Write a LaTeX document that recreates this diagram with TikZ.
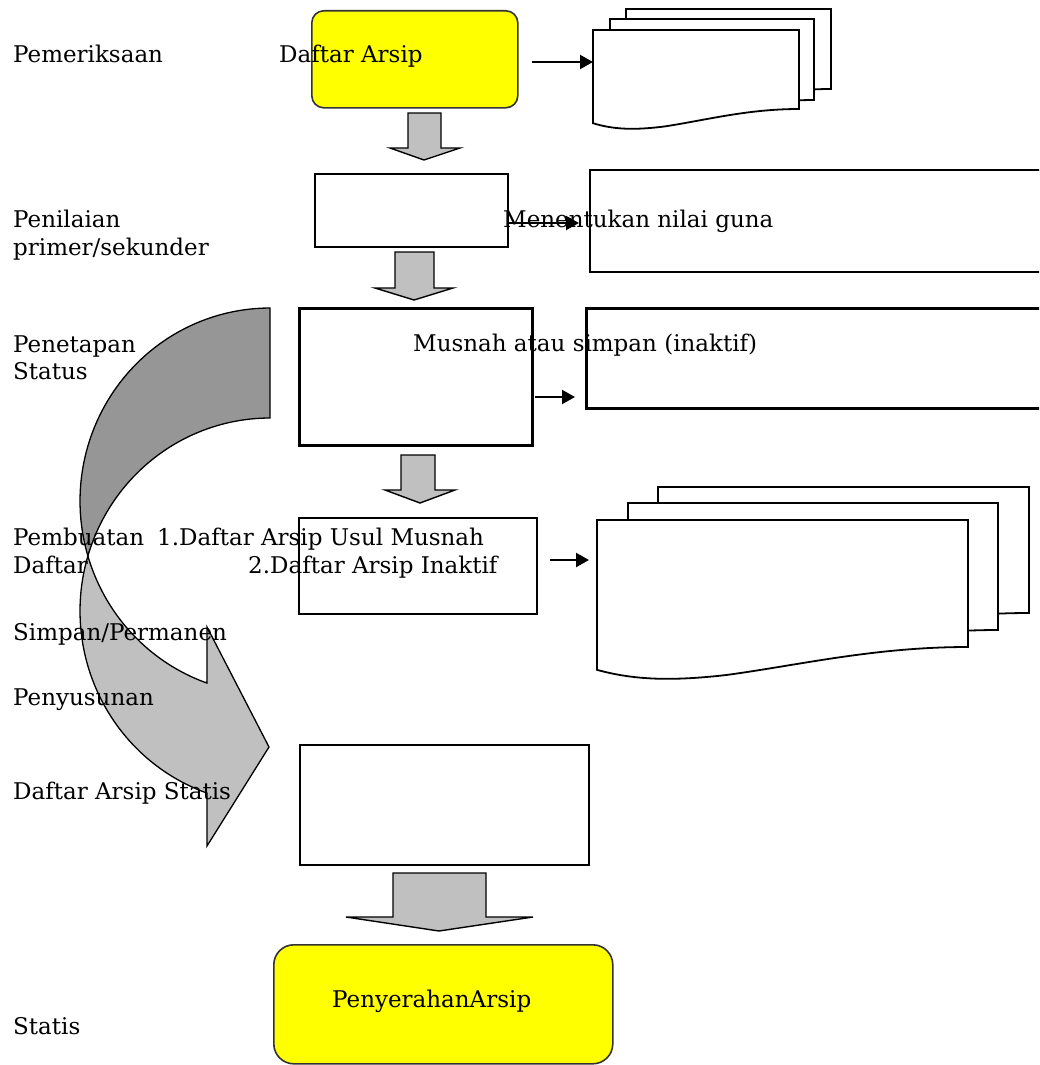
\documentclass[tikz,border=0pt]{standalone}
\usepackage{fontspec}
\setmainfont{DejaVu Serif}
\usetikzlibrary{arrows.meta}
\definecolor{ylw}{HTML}{FFFF00}
\definecolor{lgray}{HTML}{C0C0C0}
\definecolor{dgray}{HTML}{969696}
\newcommand\mydocpage[4]{%
 \filldraw[pagestyle] (#1,#2) -- (#3,#2) -- (#3,#4)
  .. controls ({#1+0.75*(#3-#1)},{#4}) and ({#1+0.55*(#3-#1)},{#4+0.14*(#4-#2)}) .. ({#1+0.35*(#3-#1)},{#4+0.22*(#4-#2)})
  .. controls ({#1+0.2*(#3-#1)},{#4+0.27*(#4-#2)}) and ({#1+0.1*(#3-#1)},{#4+0.26*(#4-#2)}) .. ({#1},{#4+0.18*(#4-#2)}) -- cycle;}
\tikzset{
 pagestyle/.style={fill=white, draw=black, line width=1.8pt, line join=miter},
 boxthin/.style={draw=black, line width=1.5pt, inner sep=0pt, anchor=north west},
 boxmid/.style={draw=black, line width=2.2pt, inner sep=0pt, anchor=north west},
 boxthick/.style={draw=black, line width=2.7pt, inner sep=0pt, anchor=north west},
 yellowbox/.style={draw=black!80, fill=ylw, line width=1.6pt, inner sep=0pt, anchor=north west},
 lbl/.style={anchor=base west, inner sep=0pt, font=\fontsize{23}{28}\selectfont},
 blk/.style={line width=2.2pt, -{Triangle[length=13pt,width=14pt]}},
 grayarrow/.style={fill=lgray, draw=black, line width=1.4pt, line join=miter},
 darkpart/.style={fill=dgray, draw=black, line width=1.3pt},
 lightpart/.style={fill=lgray, draw=black, line width=1.3pt, line join=miter}
}
\begin{document}
\begin{tikzpicture}[x=1pt,y=-1pt]
\useasboundingbox (0,0) rectangle (1039,1065);
\clip (0,0) rectangle (1039,1065);
\fill[white] (0,0) rectangle (1039,1065);

% big curved arrow
\filldraw[darkpart] plot[domain=90:196.56,samples=50] ({270+190*cos(\x)},{501-193*sin(\x)})
  -- plot[domain=163.44:90,samples=50] ({270+190*cos(\x)},{611-193*sin(\x)}) -- cycle;
\filldraw[lightpart] plot[domain=163.44:250.6,samples=50] ({270+190*cos(\x)},{611-193*sin(\x)})
  -- (207,846) -- (269,747) -- (207,627)
  -- plot[domain=250.6:196.56,samples=50] ({270+190*cos(\x)},{501-193*sin(\x)}) -- cycle;

% boxes
\node[yellowbox, rounded corners=12pt, minimum width=206pt, minimum height=97pt] (daftar) at (311,10) {};
\node[boxthin, minimum width=193pt, minimum height=73pt] (nilai) at (314,173) {};
\node[boxmid, minimum width=460pt, minimum height=102pt] (guna) at (589,169) {};
\node[boxthick, minimum width=233pt, minimum height=137pt] (status) at (298,307) {};
\node[boxthick, minimum width=460pt, minimum height=100pt] (musnah) at (585,307) {};
\node[boxthin, minimum width=238pt, minimum height=96pt] (buat) at (298,517) {};
\node[boxmid, minimum width=289pt, minimum height=120pt] (statis) at (299,744) {};
\node[yellowbox, rounded corners=20pt, minimum width=339pt, minimum height=119pt] (serah) at (273,944) {};

% document stacks
\mydocpage{626}{9}{831}{89}
\mydocpage{610}{19}{814}{100}
\mydocpage{593}{30}{799}{109}
\mydocpage{658}{487}{1029}{613}
\mydocpage{628}{503}{998}{630}
\mydocpage{597}{520}{968}{647}

% gray block arrows
\filldraw[grayarrow] (408,113) -- (441,113) -- (441,148) -- (460,148) -- (424,160) -- (390,148) -- (408,148) -- cycle;
\filldraw[grayarrow] (395,252) -- (434,252) -- (434,288) -- (453,288) -- (414,300) -- (375,288) -- (395,288) -- cycle;
\filldraw[grayarrow] (401,455) -- (435,455) -- (435,490) -- (455,490) -- (420,503) -- (385,490) -- (401,490) -- cycle;
\filldraw[grayarrow] (393,873) -- (486,873) -- (486,917) -- (533,917) -- (439,931) -- (346,917) -- (393,917) -- cycle;

% labels
\node[lbl] (l1) at (13,63) {Pemeriksaan};
\node[lbl] (t1) at (279,63) {Daftar Arsip};
\node[lbl] (l2a) at (13,227) {Penilaian};
\node[lbl] (l2b) at (13,255) {primer/sekunder};
\node[lbl] (t2) at (503,227) {Menentukan nilai guna};
\node[lbl] (l3a) at (13,352) {Penetapan};
\node[lbl] (l3b) at (13,379) {Status};
\node[lbl] (t3) at (413,351) {Musnah atau simpan (inaktif)};
\node[lbl] (l4a) at (13,545) {Pembuatan};
\node[lbl] (t4a) at (157,545) {1.Daftar Arsip Usul Musnah};
\node[lbl] (l4b) at (13,573) {Daftar};
\node[lbl] (t4b) at (248,573) {2.Daftar Arsip Inaktif};
\node[lbl] (l5) at (13,640) {Simpan/Permanen};
\node[lbl] (l6) at (13,705) {Penyusunan};
\node[lbl] (l7) at (13,799) {Daftar Arsip Statis};
\node[lbl] (t8) at (332,1007) {PenyerahanArsip};
\node[lbl] (l8) at (13,1034) {Statis};

% black arrows
\coordinate (a1s) at (532,62); \coordinate (a1e) at (593,62);
\coordinate (a2s) at (507,223); \coordinate (a2e) at (579,223);
\coordinate (a3s) at (535,397); \coordinate (a3e) at (575,397);
\coordinate (a4s) at (550,560); \coordinate (a4e) at (589,560);
\draw[blk] (a1s) -- (a1e);
\draw[blk] (a2s) -- (a2e);
\draw[blk] (a3s) -- (a3e);
\draw[blk] (a4s) -- (a4e);
\end{tikzpicture}
\end{document}
